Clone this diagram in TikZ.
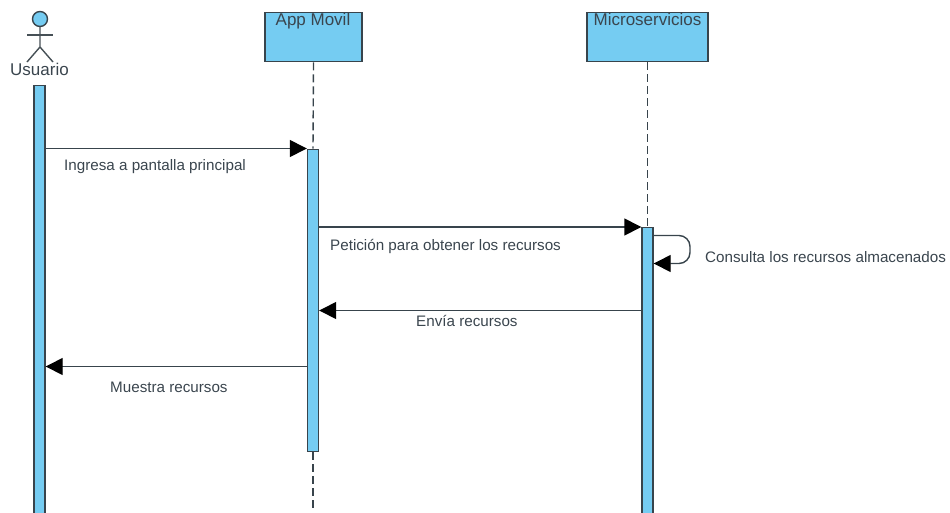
\documentclass[tikz,border=0pt]{standalone}
\usepackage{fontspec}
\setmainfont{Liberation Sans}
\usetikzlibrary{arrows.meta,positioning}
\definecolor{umlblue}{HTML}{75CCF2}
\definecolor{umlline}{HTML}{38444C}
\definecolor{umltext}{HTML}{3A454E}
\tikzset{
  x=1pt,y=-1pt,
  lifebox/.style={draw=umlline,fill=umlblue,line width=1.4pt,minimum width=#1,minimum height=49pt,inner sep=0pt,anchor=north},
  headlbl/.style={anchor=north,text=umltext,font=\fontsize{17}{19}\selectfont,inner sep=0pt},
  bar/.style={draw=umlline,fill=umlblue,line width=1.4pt,minimum width=11pt,inner sep=0pt,anchor=north},
  msg/.style={draw=umlline,line width=1.4pt,-{Triangle[length=17pt,width=17pt,fill=black,color=black]}},
  lifeline/.style={draw=umlline,line width=1.4pt,dash pattern=on 8pt off 4pt},
  lbl/.style={text=umltext,font=\fontsize{15.2}{17}\selectfont,inner sep=0pt},
  stick/.style={draw=umlline!80!gray,line width=1.4pt}
}
\begin{document}
\begin{tikzpicture}
\useasboundingbox (0,0) rectangle (950,512);
\clip (0,0) rectangle (950,512);
% lifeline heads
\node[lifebox=97pt] (app) at (313.5,12) {};
\node[headlbl] (applbl) at (313,12.5) {App Movil};
\node[lifebox=121pt] (micro) at (647.5,12) {};
\node[headlbl] (microlbl) at (647.5,12.5) {Microservicios};
% actor
\node[circle,draw=umlline,fill=umlblue,line width=1.4pt,minimum size=15pt,inner sep=0pt] (head) at (40,19) {};
\coordinate (hip) at (40,47);
\coordinate (feet1) at (27,62);
\coordinate (feet2) at (53,62);
\coordinate (arm1) at (27,35);
\coordinate (arm2) at (53,35);
\draw[stick] (head.south) -- (hip) -- (feet1);
\draw[stick] (hip) -- (feet2);
\draw[stick] (arm1) -- (arm2);
\node[headlbl] (usr) at (39.5,62.5) {Usuario};
% activation bars
\node[bar,minimum height=430pt] (barU) at (39.5,85) {};
\node[bar,minimum height=302.5pt] (barA) at (313,148.5) {};
\node[bar,minimum height=290pt] (barM) at (647.5,227) {};
% lifelines
\coordinate (appEnd) at (313,512);
\draw[lifeline] (app.south) -- (barA.north);
\draw[lifeline] (barA.south) -- (appEnd);
\draw[lifeline] (micro.south) -- (barM.north);
% messages
\coordinate (m1s) at (barU.east |- barA.north);
\coordinate (m1e) at (barA.north west);
\draw[msg] (m1s) -- (m1e);
\coordinate (m2s) at (barA.east |- barM.north);
\coordinate (m2e) at (barM.north west);
\draw[msg] (m2s) -- (m2e);
\coordinate (m3y) at (0,310.5);
\coordinate (m3s) at (barM.west |- m3y);
\coordinate (m3e) at (barA.east |- m3y);
\draw[msg] (m3s) -- (m3e);
\coordinate (m4y) at (0,366.5);
\coordinate (m4s) at (barA.west |- m4y);
\coordinate (m4e) at (barU.east |- m4y);
\draw[msg] (m4s) -- (m4e);
% self message
\coordinate (s1y) at (0,235.5);
\coordinate (s2y) at (0,263.5);
\coordinate (s1) at (barM.east |- s1y);
\coordinate (s2) at (barM.east |- s2y);
\coordinate (sc1) at (690,235.5);
\coordinate (sc2) at (690,263.5);
\draw[msg,rounded corners=11pt] (s1) -- (sc1) -- (sc2) -- (s2);
% labels
\node[lbl,anchor=west] (t1) at (64,167) {Ingresa a pantalla principal};
\node[lbl,anchor=west] (t2) at (330,246) {Petición para obtener los recursos};
\node[lbl,anchor=west] (t3) at (705,257.5) {Consulta los recursos almacenados};
\node[lbl,anchor=west] (t4) at (416,320.5) {Envía recursos};
\node[lbl,anchor=west] (t5) at (110,387.5) {Muestra recursos};
\end{tikzpicture}
\end{document}
